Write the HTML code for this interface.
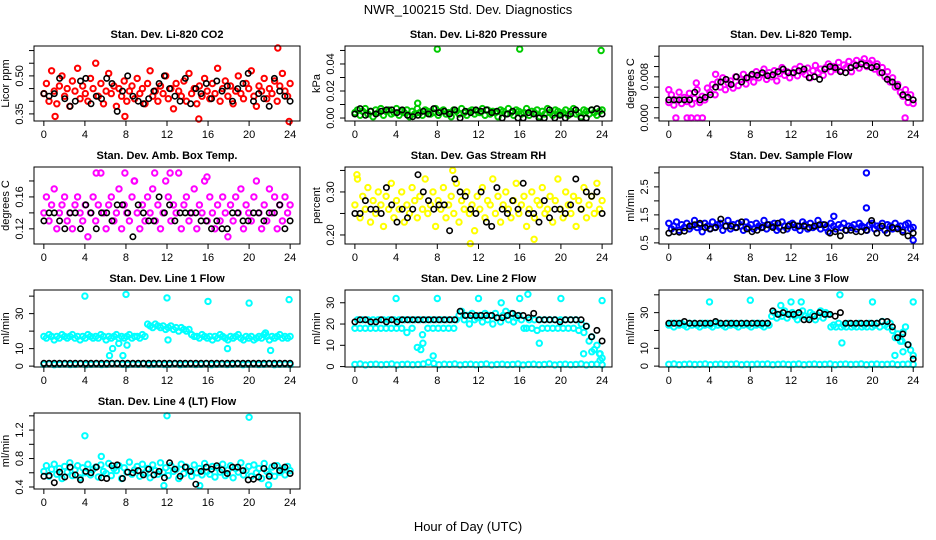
<!DOCTYPE html>
<html><head><meta charset="utf-8"><style>
html,body{margin:0;padding:0;background:#fff;}
svg{display:block;font-family:"Liberation Sans",sans-serif;}
</style></head><body>
<svg id="chart" width="936" height="540" viewBox="0 0 936 540" xmlns="http://www.w3.org/2000/svg">
<rect x="0" y="0" width="936" height="540" fill="#fff"/>
<text x="468" y="14" font-size="13" text-anchor="middle">NWR_100215  Std. Dev. Diagnostics</text>
<text x="468" y="531" font-size="13" text-anchor="middle">Hour of Day (UTC)</text>
</svg>
<script>
// ---- data arrays ----
const xTicks = [0,4,8,12,16,20,24];
const co2Red = [0.43,0.47,0.40,0.52,0.44,0.39,0.46,0.50,0.42,0.45,0.38,0.48,0.44,0.53,0.41,0.46,0.43,0.40,0.49,0.45,0.55,0.42,0.47,0.39,0.44,0.51,0.43,0.46,0.38,0.45,0.42,0.48,0.40,0.44,0.46,0.41,0.49,0.43,0.45,0.39,0.47,0.52,0.42,0.44,0.40,0.46,0.43,0.50,0.41,0.45,0.37,0.47,0.44,0.42,0.48,0.40,0.51,0.43,0.45,0.39,0.46,0.42,0.49,0.44,0.41,0.47,0.43,0.53,0.40,0.45,0.48,0.42,0.46,0.39,0.44,0.50,0.43,0.41,0.47,0.45,0.52,0.42,0.38,0.46,0.44,0.49,0.41,0.45,0.43,0.48,0.40,0.46,0.51,0.44,0.42,0.47];
const co2Black = [0.43,0.42,0.43,0.49,0.41,0.38,0.40,0.48,0.49,0.39,0.42,0.41,0.49,0.47,0.36,0.44,0.50,0.42,0.40,0.39,0.41,0.44,0.47,0.50,0.45,0.42,0.40,0.49,0.39,0.45,0.43,0.47,0.41,0.48,0.44,0.46,0.40,0.45,0.47,0.51,0.40,0.43,0.41,0.38,0.49,0.44,0.42,0.40];
const co2OutX = [22.8,15.1,23.9,1.1,7.9];
const co2OutY = [0.61,0.33,0.32,0.34,0.34];
const pressGreen = [0.004,0.006,0.002,0.005,0.007,0.003,0.005,0.001,0.006,0.004,0.007,0.002,0.005,0.006,0.003,0.004,0.007,0.002,0.005,0.004,0.006,0.001,0.005,0.003,0.007,0.004,0.002,0.006,0.005,0.003,0.004,0.007,0.002,0.005,0.006,0.003,0.004,0.001,0.006,0.005,0.003,0.007,0.004,0.002,0.005,0.006,0.003,0.005,0.004,0.007,0.002,0.006,0.003,0.005,0.004,0.001,0.006,0.005,0.003,0.007,0.004,0.002,0.006,0.005,0.003,0.004,0.007,0.002,0.005,0.004,0.006,0.001,0.005,0.003,0.007,0.004,0.002,0.006,0.005,0.003,0.004,0.006,0.002,0.005,0.007,0.003,0.004,0.001,0.006,0.005,0.003,0.006,0.004,0.002,0.005,0.006];
const pressBlack = [0.003,0.007,0.002,0.005,0.003,0.005,0.006,0.006,0.004,0.006,0.002,0.001,0.002,0.005,0.003,0.007,0.004,0.005,0.003,0.006,0.000,0.005,0.004,0.006,0.005,0.006,0.004,0.005,0.000,0.003,0.005,0.000,0.000,0.004,0.003,0.000,0.000,0.006,0.000,0.002,0.000,0.003,0.006,0.000,0.000,0.006,0.007,0.003];
const pressOutX = [8,16,23.9,6.1];
const pressOutY = [0.051,0.051,0.050,0.011];
const tempMag = [0.0030,0.0045,0.0025,0.0035,0.0050,0.0028,0.0040,0.0032,0.0048,0.0027,0.0038,0.0055,0.0030,0.0042,0.0035,0.0058,0.0050,0.0065,0.0045,0.0070,0.0060,0.0078,0.0055,0.0068,0.0072,0.0058,0.0080,0.0063,0.0075,0.0085,0.0066,0.0078,0.0082,0.0070,0.0090,0.0078,0.0085,0.0095,0.0075,0.0088,0.0080,0.0092,0.0072,0.0086,0.0098,0.0083,0.0090,0.0078,0.0088,0.0095,0.0082,0.0100,0.0090,0.0085,0.0097,0.0078,0.0092,0.0102,0.0088,0.0095,0.0083,0.0098,0.0105,0.0090,0.0100,0.0095,0.0108,0.0092,0.0103,0.0098,0.0110,0.0090,0.0105,0.0112,0.0097,0.0108,0.0115,0.0100,0.0106,0.0112,0.0095,0.0105,0.0088,0.0098,0.0080,0.0090,0.0070,0.0078,0.0060,0.0065,0.0050,0.0042,0.0055,0.0030,0.0045,0.0028];
const tempBlack = [0.0035,0.0035,0.0035,0.0035,0.0035,0.0050,0.0035,0.0040,0.0045,0.0060,0.0070,0.0075,0.0065,0.0080,0.0070,0.0078,0.0085,0.0083,0.0088,0.0082,0.0084,0.0090,0.0095,0.0088,0.0088,0.0092,0.0095,0.0078,0.0080,0.0075,0.0095,0.0100,0.0098,0.0090,0.0088,0.0098,0.0102,0.0105,0.0102,0.0098,0.0100,0.0088,0.0075,0.0070,0.0062,0.0045,0.0040,0.0035];
const tempOutX = [0.7,1.8,2.2,2.8,3.3,23.2,0,2.7,4.6];
const tempOutY = [0,0,0,0,0,0,0.0055,0.0068,0.0085];
const ambMag = [0.14,0.16,0.13,0.15,0.17,0.12,0.14,0.15,0.16,0.13,0.14,0.12,0.15,0.16,0.14,0.13,0.15,0.11,0.14,0.16,0.13,0.15,0.19,0.14,0.12,0.15,0.16,0.13,0.14,0.17,0.12,0.15,0.14,0.13,0.16,0.18,0.14,0.12,0.15,0.13,0.16,0.14,0.17,0.13,0.15,0.12,0.14,0.18,0.16,0.13,0.15,0.14,0.19,0.12,0.15,0.16,0.13,0.14,0.17,0.12,0.15,0.14,0.18,0.13,0.16,0.14,0.12,0.15,0.13,0.16,0.14,0.11,0.15,0.13,0.16,0.14,0.17,0.12,0.15,0.14,0.13,0.16,0.18,0.14,0.12,0.15,0.13,0.17,0.14,0.16,0.12,0.15,0.13,0.16,0.14,0.15];
const ambBlack = [0.13,0.14,0.14,0.13,0.12,0.14,0.14,0.12,0.15,0.14,0.12,0.14,0.14,0.13,0.15,0.15,0.14,0.11,0.15,0.14,0.13,0.13,0.16,0.14,0.15,0.13,0.14,0.14,0.14,0.14,0.13,0.13,0.12,0.13,0.12,0.12,0.14,0.14,0.13,0.13,0.14,0.14,0.13,0.14,0.14,0.15,0.12,0.13];
const ambOutX = [5.1,7.9,8.8,10.8,12.3,15.9];
const ambOutY = [0.19,0.19,0.18,0.19,0.19,0.185];
const rhYellow = [0.27,0.33,0.24,0.29,0.26,0.31,0.23,0.28,0.25,0.30,0.27,0.22,0.29,0.26,0.32,0.24,0.28,0.26,0.30,0.23,0.27,0.25,0.31,0.28,0.24,0.29,0.26,0.33,0.25,0.27,0.30,0.22,0.28,0.26,0.31,0.24,0.27,0.29,0.25,0.32,0.23,0.28,0.26,0.30,0.25,0.27,0.21,0.29,0.26,0.31,0.24,0.28,0.27,0.33,0.25,0.29,0.23,0.27,0.30,0.26,0.24,0.28,0.32,0.25,0.27,0.29,0.22,0.26,0.30,0.24,0.28,0.27,0.31,0.25,0.26,0.29,0.23,0.28,0.33,0.26,0.24,0.30,0.27,0.25,0.29,0.22,0.28,0.26,0.31,0.24,0.27,0.29,0.25,0.32,0.26,0.28];
const rhBlack = [0.25,0.25,0.28,0.26,0.26,0.25,0.31,0.27,0.23,0.26,0.24,0.26,0.34,0.30,0.28,0.26,0.27,0.27,0.21,0.33,0.30,0.29,0.26,0.25,0.30,0.23,0.22,0.31,0.26,0.25,0.28,0.26,0.32,0.25,0.25,0.23,0.28,0.24,0.26,0.26,0.25,0.27,0.33,0.26,0.30,0.29,0.30,0.25];
const rhOutX = [11.2,17.4,9.5,0.2];
const rhOutY = [0.18,0.19,0.35,0.34];
const flowBlue = [1.2,1.0,1.1,1.25,0.95,1.15,1.05,1.2,1.0,1.1,1.3,1.05,1.15,0.9,1.2,1.1,1.0,1.25,1.05,1.15,1.2,0.95,1.1,1.3,1.0,1.15,1.05,1.2,1.1,0.95,1.25,1.05,1.15,1.0,1.2,1.1,1.05,1.3,1.0,1.15,1.1,1.2,0.95,1.05,1.25,1.1,1.0,1.15,1.2,1.05,1.1,0.95,1.25,1.15,1.0,1.2,1.05,1.1,1.3,1.0,1.15,1.05,0.9,1.2,1.1,1.0,1.15,1.05,1.2,0.95,1.1,1.05,1.15,1.0,1.2,1.1,1.05,0.95,1.15,1.2,1.0,1.1,1.05,1.2,0.95,1.15,1.1,1.0,1.2,1.05,1.1,0.95,1.15,1.2,1.0,1.05];
const flowBlack = [0.85,0.9,0.88,0.92,1.1,1.15,1.2,1.05,1.0,1.05,1.35,1.1,1.1,1.05,1.25,1.0,0.9,0.95,1.05,1.15,1.05,1.2,0.95,1.1,1.15,1.1,1.1,1.05,1.1,1.15,1.15,0.85,0.9,0.75,0.95,0.95,0.9,0.9,0.95,1.3,0.85,1.1,0.85,1.05,1.0,0.88,0.75,0.85];
const flowOutX = [19.4,19.4,24.0,16.2];
const flowOutY = [3.0,1.75,0.6,1.45];
const l1Cyan = [17,16,18,17,15,17,16,18,17,16,17,18,16,17,15,17,16,18,17,16,17,16,18,17,15,17,16,17,18,16,17,16,17,18,16,17,17,16,18,17,24,23,22,24,23,22,23,21,22,23,21,22,20,22,21,20,21,18,17,17,16,18,17,16,17,15,17,16,18,17,16,15,17,16,17,18,16,15,17,16,17,15,16,17,16,18,17,15,17,16,17,18,16,17,16,17];
const l1Low = [1,1.2,0.8,1,1.1,0.9,1,1.2,0.8,1,1.1,0.9,1,1.2,1.3,1,0.9,1.1,1,1.2,0.8,1,1.1,0.9,1,1.2,0.8,1,1.1,0.9,1,1.2,0.8,1,1.1,0.9,1,1.2,0.8,1,1.1,0.9,1,1.2,0.8,1,1.1,0.9];
const l1Black = [1.6,1.6,1.6,1.6,1.6,1.6,1.6,1.6,1.6,1.6,1.6,1.6,1.6,1.6,1.6,1.6,1.6,1.6,1.6,1.6,1.6,1.6,1.6,1.6,1.6,1.6,1.6,1.6,1.6,1.6,1.6,1.6,1.6,1.6,1.6,1.6,1.6,1.6,1.6,1.6,1.6,1.6,1.6,1.6,1.6,1.6,1.6,1.6];
const l1OutX = [4,8,12,16,20,23.9,6.4,6.7,7.3,7.7,8.1,12.1,17.9,21.6,22.1];
const l1OutY = [40,41,39,37,36,38,6,10,13,6,12,15,10,19,9];
const l2Cyan = [18,22,18,22,18,22,18,22,18,22,18,22,18,22,18,22,18,22,18,22,16,22,18,22,9,22,15,22,18,22,18,22,18,22,18,22,18,22,18,22,24,26,22,24,20,25,22,23,24,21,25,22,24,20,25,23,21,24,26,22,25,21,23,24,22,18,18,22,18,22,17,22,18,22,18,22,18,22,18,22,18,22,18,22,18,22,17,20,16,19,12,14,8,10,6,4];
const l2Low = [1,1.2,0.8,1,1.1,0.9,1,1.2,0.8,1,1.1,0.9,1,1.2,2,1.5,0.9,1.1,1,1.2,0.8,1,1.1,0.9,1,1.2,0.8,1,1.1,0.9,1,1.2,0.8,1,1.1,0.9,1,1.2,0.8,1,1.1,0.9,1,1.2,0.8,1,1.1,0.9];
const l2Black = [21,22,22,21,21,22,21,22,21,22,22,22,22,22,22,22,22,22,22,22,26,24,24,24,24,24,24,23,23,24,25,24,24,23,25,22,22,22,22,21,22,22,22,22,19,14,17,12];
const l2OutX = [4,8,12,14.2,16,16.8,20,24,7.6,6.4,6.6,17.9,22.2,23,23.8,23.8];
const l2OutY = [32,32,32,30,32,34,32,31,5,8,11,11,6,7,6,3];
const l3Cyan = [23,24,22,24,23,24,23,22,24,23,24,23,22,24,23,24,23,22,24,23,24,23,22,24,23,24,23,22,24,23,24,23,22,24,23,24,23,22,24,23,28,30,27,29,28,31,27,29,30,28,26,29,31,28,27,30,29,26,28,31,27,30,29,22,23,22,24,22,23,22,24,22,23,22,24,22,23,22,24,22,23,24,22,25,23,22,24,20,16,18,14,19,22,12,9,6];
const l3Low = [1,1.2,0.8,1,1.1,0.9,1,1.2,0.8,1,1.1,0.9,1,1.2,0.8,1,0.9,1.1,1,1.2,0.8,1,1.1,0.9,1,1.2,0.8,1,1.1,0.9,1,1.2,0.8,1,1.1,0.9,1,1.2,0.8,1,1.1,0.9,1,1.2,0.8,1,1.1,0.9];
const l3Black = [24,24,24,25,24,24,24,24,24,25,24,24,24,24,24,24,24,24,24,24,31,29,30,29,29,30,26,26,28,30,29,29,28,30,24,24,24,24,24,24,24,25,25,22,16,18,12,4];
const l3OutX = [4,8,12,13,16.8,20,24,17,11,23,22.2,22.9];
const l3OutY = [36,37,36,36,40,36,36,13,34,8,6,14];
const l4Cyan = [0.62,0.70,0.55,0.65,0.72,0.58,0.66,0.52,0.69,0.61,0.74,0.56,0.64,0.70,0.53,0.67,0.60,0.72,0.57,0.65,0.68,0.54,0.71,0.62,0.59,0.73,0.56,0.66,0.63,0.70,0.52,0.67,0.61,0.75,0.58,0.64,0.69,0.55,0.72,0.60,0.66,0.53,0.71,0.63,0.58,0.74,0.61,0.67,0.56,0.70,0.62,0.65,0.52,0.72,0.59,0.68,0.63,0.55,0.71,0.60,0.66,0.57,0.73,0.62,0.58,0.69,0.54,0.67,0.61,0.72,0.56,0.64,0.70,0.53,0.66,0.61,0.74,0.57,0.63,0.69,0.55,0.71,0.60,0.66,0.52,0.73,0.62,0.58,0.68,0.55,0.70,0.61,0.65,0.57,0.69,0.63];
const l4Black = [0.55,0.56,0.46,0.61,0.54,0.68,0.57,0.50,0.62,0.60,0.68,0.53,0.52,0.70,0.71,0.52,0.61,0.60,0.63,0.57,0.65,0.57,0.62,0.53,0.74,0.65,0.55,0.68,0.62,0.44,0.62,0.68,0.65,0.70,0.64,0.59,0.68,0.68,0.63,0.50,0.51,0.54,0.66,0.55,0.70,0.63,0.68,0.59];
const l4OutX = [4,5.6,12,20,11.7,15.2,21.9];
const l4OutY = [1.12,0.83,1.40,1.38,0.42,0.42,0.43];

const NS = 'http://www.w3.org/2000/svg';
const svg = document.getElementById('chart');
function mk(tag, attrs, parent){
  const e = document.createElementNS(NS, tag);
  for (const k in attrs) e.setAttribute(k, attrs[k]);
  (parent||svg).appendChild(e); return e;
}
const colL = [34,345,659], colR = [300,612,923];
const rowT = [46,167,290,413], rowB = [121,244,367,489];

const panels = [
 {key:'co2',title:'Stan. Dev. Li-820 CO2',ylab:'Licor ppm',r:0,c:0,ymin:0.322,ymax:0.618,ticks:[0.35,0.40,0.45,0.50,0.55,0.60],labels:['0.35','','','0.50','',''],color:'#ff0000',main:co2Red,black:co2Black,outX:co2OutX,outY:co2OutY},
 {key:'pressure',title:'Stan. Dev. Li-820 Pressure',ylab:'kPa',r:0,c:1,ymin:-0.0022,ymax:0.0533,ticks:[0,0.01,0.02,0.03,0.04,0.05],labels:['0.00','','0.02','','0.04',''],color:'#00cc00',main:pressGreen,black:pressBlack,outX:pressOutX,outY:pressOutY},
 {key:'temp',title:'Stan. Dev. Li-820 Temp.',ylab:'degrees C',r:0,c:2,ymin:-0.0006,ymax:0.014,ticks:[0,0.002,0.004,0.006,0.008,0.010,0.012],labels:['0.000','','','','0.008','',''],color:'#ff00ff',main:tempMag,black:tempBlack,outX:tempOutX,outY:tempOutY},
 {key:'ambtemp',title:'Stan. Dev. Amb. Box Temp.',ylab:'degrees C',r:1,c:0,ymin:0.101,ymax:0.1975,ticks:[0.12,0.14,0.16,0.18],labels:['0.12','','0.16',''],color:'#ff00ff',main:ambMag,black:ambBlack,outX:ambOutX,outY:ambOutY},
 {key:'rh',title:'Stan. Dev. Gas Stream RH',ylab:'percent',r:1,c:1,ymin:0.179,ymax:0.358,ticks:[0.20,0.25,0.30,0.35],labels:['0.20','','0.30',''],color:'#ffff00',main:rhYellow,black:rhBlack,outX:rhOutX,outY:rhOutY},
 {key:'sampleflow',title:'Stan. Dev. Sample Flow',ylab:'ml/min',r:1,c:2,ymin:0.46,ymax:3.21,ticks:[0.5,1.0,1.5,2.0,2.5,3.0],labels:['0.5','','1.5','','2.5',''],color:'#0000ff',main:flowBlue,black:flowBlack,outX:flowOutX,outY:flowOutY},
 {key:'line1',title:'Stan. Dev. Line 1 Flow',ylab:'ml/min',r:2,c:0,ymin:-0.5,ymax:43.5,ticks:[0,10,20,30,40],labels:['0','10','','30',''],color:'#00ffff',main:l1Cyan,low:l1Low,black:l1Black,outX:l1OutX,outY:l1OutY},
 {key:'line2',title:'Stan. Dev. Line 2 Flow',ylab:'ml/min',r:2,c:1,ymin:-0.2,ymax:36,ticks:[0,10,20,30],labels:['0','10','20','30'],color:'#00ffff',main:l2Cyan,low:l2Low,black:l2Black,outX:l2OutX,outY:l2OutY},
 {key:'line3',title:'Stan. Dev. Line 3 Flow',ylab:'ml/min',r:2,c:2,ymin:-0.5,ymax:42.7,ticks:[0,10,20,30,40],labels:['0','10','','30',''],color:'#00ffff',main:l3Cyan,low:l3Low,black:l3Black,outX:l3OutX,outY:l3OutY},
 {key:'line4',title:'Stan. Dev. Line 4 (LT) Flow',ylab:'ml/min',r:3,c:0,ymin:0.372,ymax:1.44,ticks:[0.4,0.6,0.8,1.0,1.2,1.4],labels:['0.4','','0.8','','1.2',''],color:'#00ffff',main:l4Cyan,black:l4Black,outX:l4OutX,outY:l4OutY}
];

function dot(g, x, y, color, w){
  const c = mk('circle',{cx:x.toFixed(1),cy:y.toFixed(1),r:2.7,fill:'none',stroke:color,'stroke-width':w},g);
  
  
}
function series(g, arr, color, xs, sx, sy, w){
  const n = arr.length;
  for (let i=0;i<n;i++){
    const h = xs ? xs[i] : i*24/(n-1);
    dot(g, sx(h), sy(arr[i]), color, w);
  }
}

panels.forEach(p=>{
  const L=colL[p.c], R=colR[p.c], T=rowT[p.r], B=rowB[p.r];
  const sx = h => L + (h+0.96)/25.92*(R-L);
  const sy = v => B - (v-p.ymin)/(p.ymax-p.ymin)*(B-T);
  const g = mk('g',{});
  
  
  const t = mk('text',{x:(L+R)/2,y:T-8,'font-size':11,'font-weight':'bold','text-anchor':'middle'},g);
  t.textContent = p.title;
  
  
  const pts = mk('g',{},g);
  
  
  if (p.low) series(pts, p.low, p.color, null, sx, sy, 2);
  series(pts, p.main, p.color, null, sx, sy, 2);
  series(pts, p.outY, p.color, p.outX, sx, sy, 2);
  series(pts, p.black, '#000', null, sx, sy, 1.6);
  const box = mk('rect',{x:L,y:T,width:R-L,height:B-T,fill:'none',stroke:'#000','stroke-width':1},g);
  
  
  const xa = mk('g',{},g);
  
  
  xTicks.forEach(v=>{
    mk('line',{x1:sx(v),x2:sx(v),y1:B,y2:B+5,stroke:'#000'},xa);
    const lt = mk('text',{x:sx(v),y:B+17,'font-size':11,'text-anchor':'middle'},xa);
    lt.textContent = v;
    
    
  });
  const ya = mk('g',{},g);
  
  
  const ax = L;
  p.ticks.forEach((v,i)=>{
    mk('line',{x1:ax-5,x2:ax,y1:sy(v),y2:sy(v),stroke:'#000'},ya);
    if (p.labels[i]){
      const yt = mk('text',{x:0,y:0,'font-size':11,'text-anchor':'middle',transform:`translate(${ax-11},${sy(v)}) rotate(-90)`},ya);
      yt.textContent = p.labels[i];
      
      
    }
  });
  const yl = mk('text',{x:0,y:0,'font-size':11,'text-anchor':'middle',transform:`translate(${L-25},${(T+B)/2}) rotate(-90)`},g);
  yl.textContent = p.ylab;
  
  
});
</script>
</body></html>
